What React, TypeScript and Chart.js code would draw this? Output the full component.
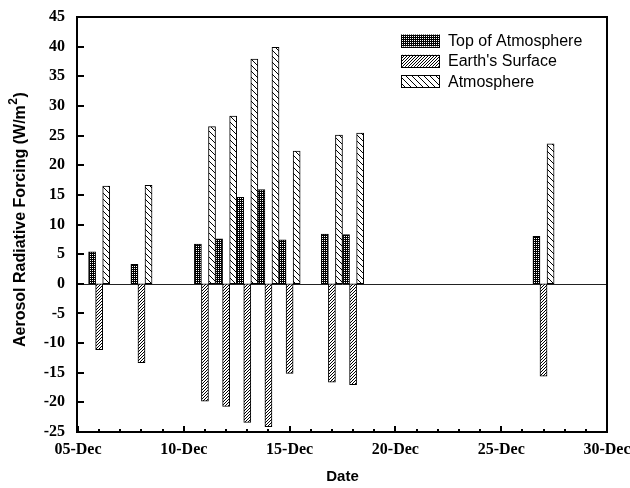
import React, { useEffect, useRef } from 'react';
import { Chart, registerables } from 'chart.js';

Chart.register(...registerables);

// ---- data ----
const dayLabels = [
  '05-Dec', '06-Dec', '07-Dec', '08-Dec', '09-Dec', '10-Dec', '11-Dec', '12-Dec', '13-Dec',
  '14-Dec', '15-Dec', '16-Dec', '17-Dec', '18-Dec', '19-Dec', '20-Dec', '21-Dec', '22-Dec',
  '23-Dec', '24-Dec', '25-Dec', '26-Dec', '27-Dec', '28-Dec', '29-Dec', '30-Dec',
];
const tickLabels = ['05-Dec', '10-Dec', '15-Dec', '20-Dec', '25-Dec', '30-Dec'];
const obsDates = ['06-Dec', '08-Dec', '11-Dec', '12-Dec', '13-Dec', '14-Dec', '15-Dec', '17-Dec', '18-Dec', '27-Dec'];
const toaValues = [5.4, 3.3, 6.7, 7.6, 14.6, 15.9, 7.4, 8.4, 8.3, 8.0];
const surfaceValues = [-11.1, -13.3, -19.8, -20.7, -23.4, -24.1, -15.1, -16.6, -17.0, -15.6];
const atmosphereValues = [16.5, 16.6, 26.5, 28.3, 37.9, 39.9, 22.4, 25.1, 25.4, 23.6];
const seriesNames = ['Top of Atmosphere', "Earth's Surface", 'Atmosphere'];
const yMin = -25;
const yMax = 45;
const yStep = 5;
const xTitle = 'Date';
const yTitleMain = 'Aerosol Radiative Forcing (W/m';
const yTitleSup = '2';
const yTitleEnd = ')';

function makePattern(size: number, fn: (x: number, y: number) => boolean, bg: string, fg: string) {
  const c = document.createElement('canvas');
  c.width = size;
  c.height = size;
  const g = c.getContext('2d')!;
  g.fillStyle = bg;
  g.fillRect(0, 0, size, size);
  g.fillStyle = fg;
  for (let x = 0; x < size; x++) {
    for (let y = 0; y < size; y++) {
      if (fn(x, y)) g.fillRect(x, y, 1, 1);
    }
  }
  return g.createPattern(c, 'repeat')!;
}

export default function App() {
  const ref = useRef<HTMLCanvasElement | null>(null);

  useEffect(() => {
    const canvas = ref.current;
    if (!canvas) return;

    const toaPattern = makePattern(4, (x, y) => x % 2 === 0 && y % 2 === 0, '#000', '#fff');
    const surfacePattern = makePattern(3, (x, y) => (x + y) % 3 === 0, '#fff', '#000');
    const atmosPattern = makePattern(6, (x, y) => (x - y + 6) % 6 === 0, '#fff', '#000');
    const patterns = [toaPattern, surfacePattern, atmosPattern];

    const framePlugin = {
      id: 'framePlugin',
      beforeDatasetsDraw(chart: any) {
        const { ctx, chartArea: a, scales } = chart;
        const y0 = Math.round(scales.y.getPixelForValue(0)) + 0.5;
        ctx.save();
        ctx.strokeStyle = '#222';
        ctx.lineWidth = 1;
        ctx.beginPath();
        ctx.moveTo(a.left, y0);
        ctx.lineTo(a.right, y0);
        ctx.stroke();
        ctx.restore();
      },
      afterDraw(chart: any) {
        const { ctx, chartArea: a, scales } = chart;
        const xs = scales.x;
        const ys = scales.y;
        ctx.save();
        ctx.strokeStyle = '#000';
        ctx.lineWidth = 2;
        ctx.strokeRect(a.left - 1, a.top, a.right - a.left + 1, a.bottom - a.top);
        // y ticks
        ys.ticks.forEach((t: any) => {
          const py = Math.round(ys.getPixelForValue(t.value));
          ctx.beginPath();
          ctx.moveTo(a.left, py);
          ctx.lineTo(a.left + 6, py);
          ctx.stroke();
        });
        // x ticks
        dayLabels.forEach((d, i) => {
          const px = Math.round(xs.getPixelForValue(i));
          const len = tickLabels.includes(d) ? 6 : 3;
          ctx.beginPath();
          ctx.moveTo(px, a.bottom);
          ctx.lineTo(px, a.bottom - len);
          ctx.stroke();
        });
        // legend
        ctx.lineWidth = 1;
        ctx.font = '16px "Liberation Sans", Arial, sans-serif';
        ctx.textBaseline = 'middle';
        ctx.textAlign = 'left';
        chart.data.datasets.forEach((ds: any, i: number) => {
          const cy = 40.5 + i * 20.3;
          ctx.fillStyle = patterns[i];
          ctx.fillRect(401, cy - 6, 39, 12);
          ctx.strokeStyle = '#000';
          ctx.strokeRect(401.5, Math.round(cy - 6) + 0.5, 38, 12);
          ctx.fillStyle = '#000';
          ctx.fillText(ds.label, 448, cy + 1);
        });
        // x title
        ctx.font = 'bold 15px "Liberation Sans", Arial, sans-serif';
        ctx.textAlign = 'center';
        ctx.fillText(xTitle, (a.left + a.right) / 2, 477);
        // y title
        ctx.translate(21, 347);
        ctx.rotate(-Math.PI / 2);
        ctx.textAlign = 'left';
        ctx.font = 'bold 16px "Liberation Sans", Arial, sans-serif';
        ctx.fillText(yTitleMain, 0, 0);
        const w1 = ctx.measureText(yTitleMain).width;
        ctx.font = 'bold 12px "Liberation Sans", Arial, sans-serif';
        ctx.fillText(yTitleSup, w1 + 0.5, -7);
        const w2 = ctx.measureText(yTitleSup).width;
        ctx.font = 'bold 16px "Liberation Sans", Arial, sans-serif';
        ctx.fillText(yTitleEnd, w1 + w2 + 1, 0);
        ctx.restore();
      },
    };

    const series = [toaValues, surfaceValues, atmosphereValues];
    const chart = new Chart(canvas, {
      type: 'bar',
      data: {
        labels: dayLabels,
        datasets: series.map((vals, i) => ({
          label: seriesNames[i],
          data: obsDates.map((d, j) => ({ x: d, y: vals[j] })),
          backgroundColor: patterns[i],
          borderColor: '#000',
          borderWidth: 1,
          borderSkipped: false,
          categoryPercentage: 1,
          barPercentage: 1,
        })) as any,
      },
      options: {
        animation: false,
        responsive: true,
        maintainAspectRatio: false,
        layout: { padding: { top: 17, right: 23, left: 0, bottom: 0 } },
        plugins: { legend: { display: false }, tooltip: { enabled: false } },
        scales: {
          x: {
            type: 'category',
            offset: false,
            grid: { display: false, drawTicks: false, offset: false },
            border: { display: false },
            ticks: {
              autoSkip: false,
              maxRotation: 0,
              minRotation: 0,
              padding: 8,
              color: '#000',
              font: { family: '"Liberation Serif", "Times New Roman", serif', size: 16, weight: 'bold' },
              callback: (_v: any, i: number) => (tickLabels.includes(dayLabels[i]) ? dayLabels[i] : ''),
            },
            afterFit: (s: any) => {
              s.height = 56;
              s.paddingLeft = 0;
              s.paddingRight = 0;
            },
          },
          y: {
            min: yMin,
            max: yMax,
            grid: { display: false, drawTicks: false },
            border: { display: false },
            ticks: {
              stepSize: yStep,
              padding: 13,
              color: '#000',
              font: { family: '"Liberation Serif", "Times New Roman", serif', size: 16, weight: 'bold' },
            },
            afterFit: (s: any) => {
              s.width = 78;
              s.paddingTop = 0;
              s.paddingBottom = 0;
            },
          },
        },
      } as any,
      plugins: [framePlugin],
    });
    return () => chart.destroy();
  }, []);

  return (
    <div style={{ position: 'fixed', left: 0, top: 0, width: 630, height: 488, background: '#fff' }}>
      <canvas ref={ref} />
    </div>
  );
}
